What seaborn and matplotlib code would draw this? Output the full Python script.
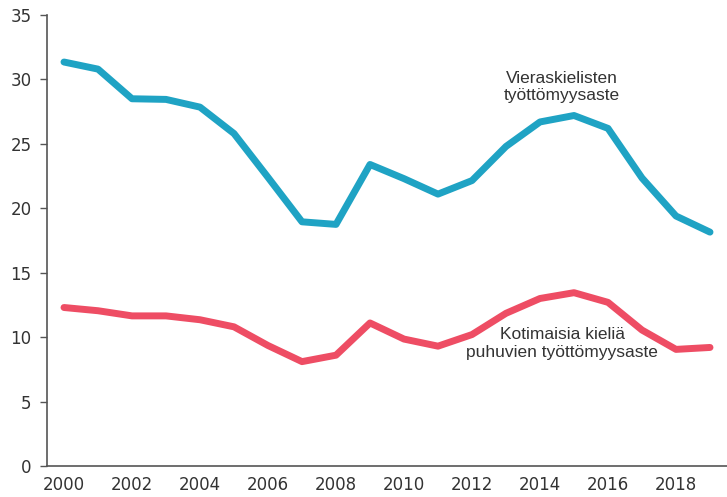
import matplotlib
matplotlib.use("Agg")
import matplotlib.pyplot as plt
import seaborn as sns
import pandas as pd

# Data
years = list(range(2000, 2020))
foreign = [31.35, 30.8, 28.5, 28.45, 27.85, 25.8, 22.4, 18.95, 18.75, 23.4,
           22.3, 21.1, 22.15, 24.8, 26.7, 27.2, 26.2, 22.35, 19.4, 18.15]
domestic = [12.3, 12.05, 11.65, 11.65, 11.35, 10.8, 9.35, 8.1, 8.6, 11.1,
            9.85, 9.3, 10.2, 11.85, 13.0, 13.45, 12.7, 10.55, 9.05, 9.2]
label_foreign = "Vieraskielisten\ntyöttömyysaste"
label_domestic = "Kotimaisia kieliä\npuhuvien työttömyysaste"

df = pd.DataFrame({"year": years * 2,
                   "rate": foreign + domestic,
                   "group": ["foreign"] * len(years) + ["domestic"] * len(years)})

sns.set_style("white")
plt.rcParams["font.family"] = ["DejaVu Sans"]

fig = plt.figure(figsize=(7.27, 4.97), dpi=100)
ax = fig.add_axes([47 / 727, 31 / 497, 680 / 727, 451 / 497])

sns.lineplot(data=df, x="year", y="rate", hue="group",
             palette={"foreign": "#1fa3c4", "domestic": "#ee4d64"},
             linewidth=5, legend=False, ax=ax, solid_capstyle="round")

ax.set_xlim(1999.5, 2019.5)
ax.set_ylim(0, 35)
ax.set_yticks(range(0, 36, 5))
# category-style x axis: tick marks between years, labels every other year
ax.set_xticks([y - 0.5 for y in range(2000, 2021)])
ax.set_xticklabels([])
ax.set_xticks(years[::2], minor=True)
ax.set_xticklabels([str(y) for y in years[::2]], minor=True)
ax.tick_params(axis="x", which="major", direction="in", length=5, width=1, color="#555555")
ax.tick_params(axis="x", which="minor", length=0, pad=7, labelsize=12, labelcolor="#333333")
ax.tick_params(axis="y", direction="out", length=5, width=1, color="#555555", pad=6,
               labelsize=12, labelcolor="#333333", left=True)
ax.set_xlabel("")
ax.set_ylabel("")

for side in ["top", "right"]:
    ax.spines[side].set_visible(False)
for side in ["left", "bottom"]:
    ax.spines[side].set_color("#555555")
    ax.spines[side].set_linewidth(1.2)

ax.text(2014.65, 29.4, label_foreign, ha="center", va="center", family="Liberation Sans",
        fontsize=12.5, color="#333333", linespacing=1.2)
ax.text(2014.65, 9.5, label_domestic, ha="center", va="center", family="Liberation Sans",
        fontsize=12.5, color="#333333", linespacing=1.2)

fig.savefig("out.png", dpi=100)
